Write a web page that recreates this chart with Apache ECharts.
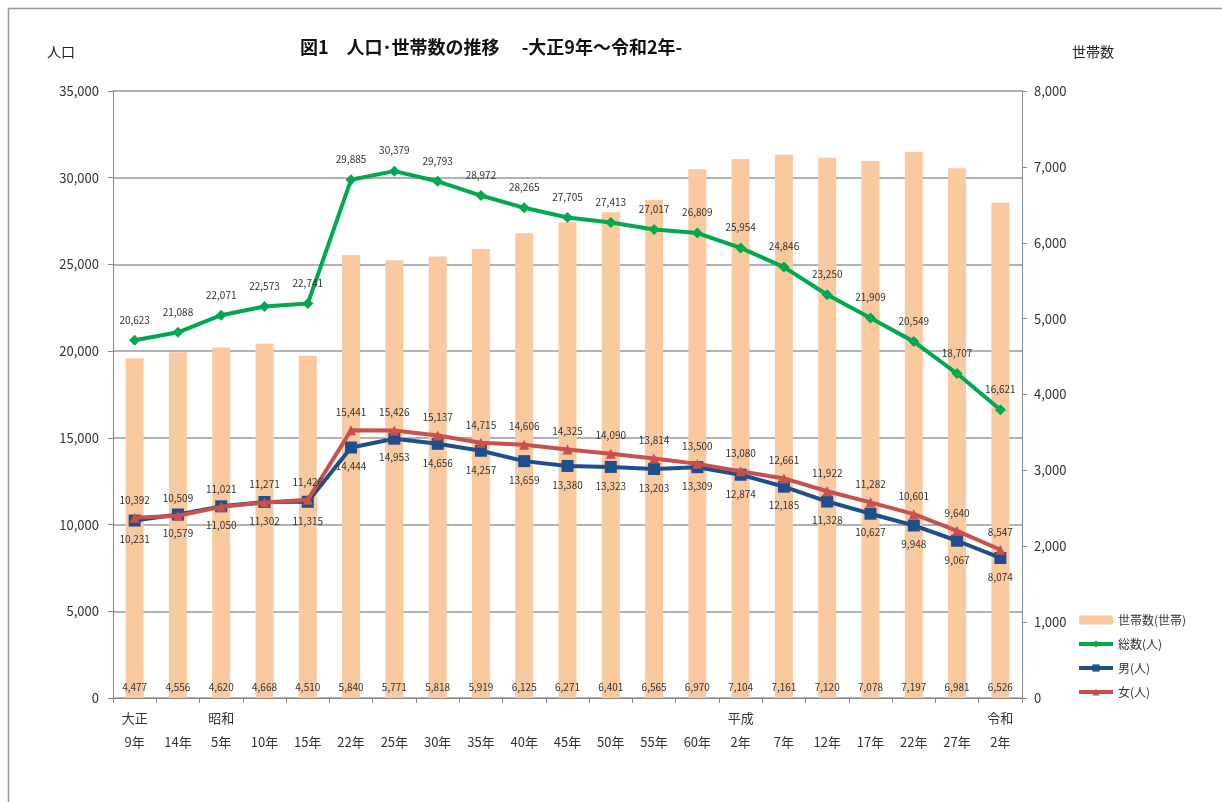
<!DOCTYPE html>
<html>
<head>
<meta charset="utf-8">
<script src="https://cdn.jsdelivr.net/npm/echarts@6/dist/echarts.min.js"></script>
<style>
html,body{margin:0;padding:0;background:#fff;}
#c{width:1222px;height:802px;}
</style>
</head>
<body>
<div id="c"></div>
<script>
const categories = ['大正\n9年','\n14年','昭和\n5年','\n10年','\n15年','\n22年','\n25年','\n30年','\n35年','\n40年','\n45年','\n50年','\n55年','\n60年','平成\n2年','\n7年','\n12年','\n17年','\n22年','\n27年','令和\n2年'];
const households = [4477,4556,4620,4668,4510,5840,5771,5818,5919,6125,6271,6401,6565,6970,7104,7161,7120,7078,7197,6981,6526];
const total = [20623,21088,22071,22573,22741,29885,30379,29793,28972,28265,27705,27413,27017,26809,25954,24846,23250,21909,20549,18707,16621];
const male = [10231,10579,11050,11302,11315,14444,14953,14656,14257,13659,13380,13323,13203,13309,12874,12185,11328,10627,9948,9067,8074];
const female = [10392,10509,11021,11271,11426,15441,15426,15137,14715,14606,14325,14090,13814,13500,13080,12661,11922,11282,10601,9640,8547];

const FONT = '"Noto Sans CJK JP", "Noto Sans", sans-serif';
const fmt = v => String(v).replace(/\B(?=(\d{3})+(?!\d))/g, ',');
const lbl = (pos, dist) => ({show:true, position:pos, distance:dist, fontSize:10, color:'#333', fontFamily:FONT, formatter:p=>fmt(p.value)});

const chart = echarts.init(document.getElementById('c'), null, {renderer:'canvas'});
chart.setOption({
  animation:false,
  backgroundColor:'#fff',
  textStyle:{fontFamily:FONT},
  graphic:[{type:'rect', shape:{x:8.5,y:8.5,width:1300,height:900}, style:{fill:'none', stroke:'#999', lineWidth:1.5}, silent:true}],
  title:{text:'図1　人口･世帯数の推移　 -大正9年～令和2年-', left:295, top:33, textStyle:{fontSize:18, fontWeight:'bold', color:'#111', fontFamily:FONT}},
  legend:{
    orient:'vertical', left:1072, top:609, itemWidth:34, itemHeight:9, itemGap:12,
    textStyle:{fontSize:12, color:'#333', fontFamily:FONT},
    lineStyle:{width:4},
    data:['世帯数(世帯)','総数(人)','男(人)','女(人)']
  },
  grid:{left:113, right:200, top:91, bottom:104},
  xAxis:{
    type:'category', data:categories, boundaryGap:true,
    axisLine:{lineStyle:{color:'#888', width:1}},
    axisTick:{show:true, alignWithLabel:false, length:5, lineStyle:{color:'#888'}},
    axisLabel:{fontSize:13, color:'#333', lineHeight:24, margin:8, interval:0, fontFamily:FONT}
  },
  yAxis:[
    {type:'value', min:0, max:35000, interval:5000, name:'人口', nameLocation:'end', nameGap:32,
     nameTextStyle:{fontSize:14, color:'#222', align:'right', padding:[0,38,0,0], fontFamily:FONT},
     axisLine:{show:true, lineStyle:{color:'#888'}},
     axisTick:{show:true, length:5, lineStyle:{color:'#888'}},
     axisLabel:{fontSize:13, color:'#333', margin:14, formatter:v=>fmt(v)},
     splitLine:{show:true, lineStyle:{color:'#999', width:1.5}}},
    {type:'value', min:0, max:8000, interval:1000, name:'世帯数', nameLocation:'end', nameGap:32,
     nameTextStyle:{fontSize:14, color:'#222', align:'left', padding:[0,0,0,50], fontFamily:FONT},
     axisLine:{show:true, lineStyle:{color:'#888'}},
     axisTick:{show:true, length:5, lineStyle:{color:'#888'}},
     axisLabel:{fontSize:13, color:'#333', margin:12, formatter:v=>fmt(v)},
     splitLine:{show:false}}
  ],
  series:[
    {name:'世帯数(世帯)', type:'bar', yAxisIndex:1, data:households, barWidth:18,
     itemStyle:{color:'#FAC9A0'}, label:lbl('insideBottom', 6)},
    {name:'総数(人)', type:'line', yAxisIndex:0, data:total, symbol:'diamond', symbolSize:11,
     lineStyle:{color:'#00A84F', width:4}, itemStyle:{color:'#00A84F'}, label:lbl('top', 10), z:5},
    {name:'男(人)', type:'line', yAxisIndex:0, data:male, symbol:'rect', symbolSize:12,
     lineStyle:{color:'#1F4E8C', width:4}, itemStyle:{color:'#1F4E8C'}, label:lbl('bottom', 8), z:4},
    {name:'女(人)', type:'line', yAxisIndex:0, data:female, symbol:'triangle', symbolSize:10,
     lineStyle:{color:'#C8504D', width:4}, itemStyle:{color:'#C8504D'}, label:lbl('top', 8), z:6}
  ]
});
</script>
</body>
</html>
